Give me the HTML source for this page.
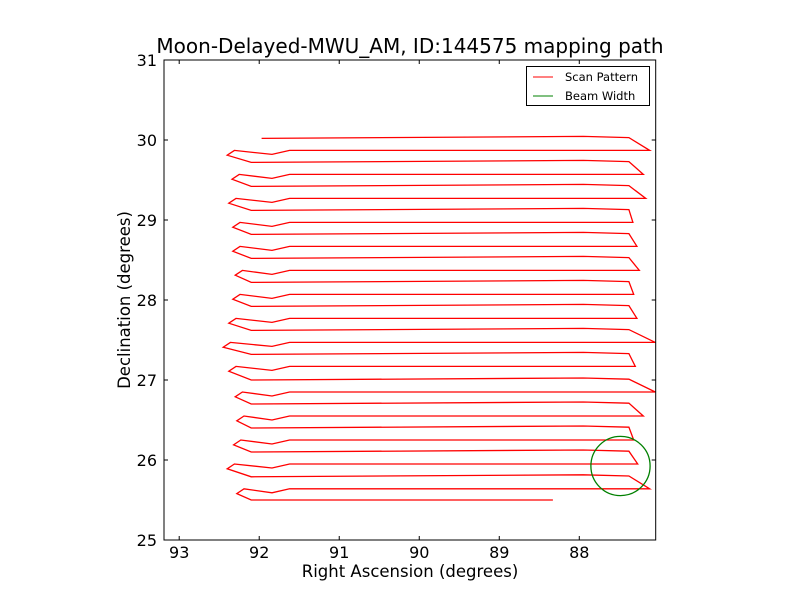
<!DOCTYPE html>
<html><head><meta charset="utf-8"><style>
body{margin:0;background:#fff;}
svg text{font-family:"DejaVu Sans","Liberation Sans",sans-serif;}
</style></head><body>
<svg id="chart" width="800" height="600" viewBox="0 0 800 600">
<rect x="0" y="0" width="800" height="600" fill="#fff"/>
<text x="410" y="53" text-anchor="middle" font-size="20">Moon-Delayed-MWU_AM, ID:144575 mapping path</text>
<g id="plot"></g>
<rect x="164" y="60" width="491.7" height="480" fill="none" stroke="#000" stroke-width="1"/>
<g id="ticks"></g>
<text x="410" y="577" text-anchor="middle" font-size="16.5">Right Ascension (degrees)</text>
<text x="130" y="300" text-anchor="middle" font-size="16.5" transform="rotate(-90 130 300)">Declination (degrees)</text>
<g>
<rect x="526.5" y="66.5" width="123" height="39" fill="#fff" stroke="#000"/>
<line x1="533" y1="77" x2="553" y2="77" stroke="red"/>
<text x="565" y="81" font-size="11.5">Scan Pattern</text>
<line x1="533" y1="96" x2="553" y2="96" stroke="green"/>
<text x="565" y="100" font-size="11.5">Beam Width</text>
</g>
</svg>
<script>
const rowDec=[30.02,29.87,29.72,29.57,29.42,29.27,29.12,28.97,28.82,28.67,28.52,28.37,28.22,28.07,27.92,27.77,27.62,27.47,27.32,27.17,27.0,26.85,26.7,26.55,26.4,26.25,26.1,25.95,25.79,25.64,25.5];
const leftTipRA=[92.40,92.34,92.38,92.33,92.33,92.30,92.33,92.38,92.45,92.38,92.30,92.28,92.32,92.40,92.28];
const rightTipRA=[87.12,87.20,87.17,87.33,87.28,87.25,87.32,87.28,87.05,87.30,87.05,87.20,87.32,87.27,87.12];
const pathStartRA=91.97, pathEndRA=88.33, rowStartRA=92.10, rowEndRA=87.38, bumpRA=87.95, dipRA=91.84, dipStartRA=91.62;
const beamRA=87.485, beamDec=25.925, beamRadius=0.37;
const xTicks=[93,92,91,90,89,88];
const yTicks=[25,26,27,28,29,30,31];
const xMin=93.19, xMax=87.045, yMin=25, yMax=31;
const L=164,R=655.7,T=60,B=540;
function sx(v){return L+(xMin-v)/(xMin-xMax)*(R-L);}
function sy(v){return B-(v-yMin)/(yMax-yMin)*(B-T);}
const NS="http://www.w3.org/2000/svg";
const plot=document.getElementById('plot');
const pts=[];
for(let i=0;i<rowDec.length;i++){
  const d=rowDec[i];
  if(i%2===0){
    const sRA=i===0?pathStartRA:rowStartRA;
    pts.push([sRA,d]);
    if(i===rowDec.length-1){pts.push([pathEndRA,d]);break;}
    pts.push([bumpRA,d+0.025]);
    pts.push([rowEndRA,d+0.01]);
    pts.push([rightTipRA[(i)/2],rowDec[i+1]]);
  }else{
    const k=(i-1)/2;
    pts.push([dipStartRA,d]);
    pts.push([dipRA,d-0.05]);
    pts.push([leftTipRA[k]-0.09,d]);
    pts.push([leftTipRA[k],d-0.06]);
  }
}
const pl=document.createElementNS(NS,'polyline');
pl.setAttribute('points',pts.map(p=>sx(p[0]).toFixed(1)+','+sy(p[1]).toFixed(1)).join(' '));
pl.setAttribute('fill','none');pl.setAttribute('stroke','red');pl.setAttribute('stroke-width','1.3');


plot.appendChild(pl);
const c=document.createElementNS(NS,'ellipse');
c.setAttribute('cx',sx(beamRA));c.setAttribute('cy',sy(beamDec));
c.setAttribute('rx',Math.abs(sx(beamRA+beamRadius)-sx(beamRA)));
c.setAttribute('ry',Math.abs(sy(beamDec+beamRadius)-sy(beamDec)));
c.setAttribute('fill','none');c.setAttribute('stroke','green');c.setAttribute('stroke-width','1.3');


plot.appendChild(c);
const tg=document.getElementById('ticks');
function line(x1,y1,x2,y2){const l=document.createElementNS(NS,'line');l.setAttribute('x1',x1);l.setAttribute('y1',y1);l.setAttribute('x2',x2);l.setAttribute('y2',y2);l.setAttribute('stroke','#000');


tg.appendChild(l);}
xTicks.forEach(v=>{const x=sx(v);line(x,B,x,B-4);line(x,T,x,T+4);
 const t=document.createElementNS(NS,'text');t.setAttribute('x',x);t.setAttribute('y',B+18);t.setAttribute('text-anchor','middle');t.setAttribute('font-size','16');t.textContent=v;
 
 
 tg.appendChild(t);});
yTicks.forEach(v=>{const y=sy(v);line(L,y,L+4,y);line(R,y,R-4,y);
 const t=document.createElementNS(NS,'text');t.setAttribute('x',L-7);t.setAttribute('y',y+6);t.setAttribute('text-anchor','end');t.setAttribute('font-size','16');t.textContent=v;
 
 
 tg.appendChild(t);});
</script>
</body></html>
